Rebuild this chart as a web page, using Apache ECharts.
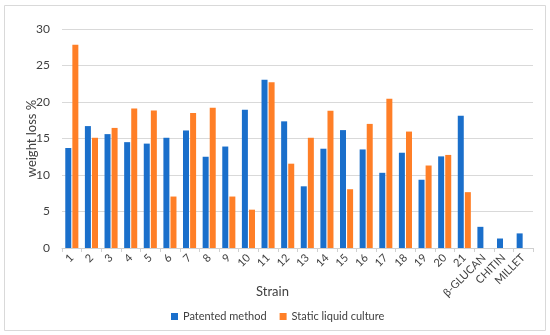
<!DOCTYPE html>
<html><head><meta charset="utf-8">
<script src="https://cdn.jsdelivr.net/npm/echarts@6/dist/echarts.min.js"></script>
<style>html,body{margin:0;padding:0;background:#fff}#c{width:550px;height:335px}</style>
</head><body><div id="c"></div>
<script>
var categories = ['1','2','3','4','5','6','7','8','9','10','11','12','13','14','15','16','17','18','19','20','21','β-GLUCAN','CHITIN','MILLET'];
var patented = [13.7,16.7,15.6,14.5,14.3,15.1,16.1,12.5,13.9,18.95,23.05,17.35,8.45,13.6,16.15,13.5,10.3,13.05,9.35,12.55,18.1,2.9,1.3,2.0];
var staticLiquid = [27.85,15.1,16.45,19.1,18.85,7.05,18.5,19.2,7.05,5.25,22.7,11.55,15.1,18.8,8.05,17.0,20.45,15.95,11.3,12.75,7.65,null,null,null];
var yTicks = [0,5,10,15,20,25,30];

var font = 'Lato, "Open Sans", sans-serif';
var chart = echarts.init(document.getElementById('c'));
chart.setOption({
  animation: false,
  textStyle: {fontFamily: font},
  grid: {left: 62, right: 17, top: 29, bottom: 87},
  graphic: [
    {type: 'rect', shape: {x: 4.5, y: 5.5, width: 541, height: 325}, style: {fill: 'none', stroke: '#d9d9d9', lineWidth: 1}, z: -1},
    {type: 'text', left: 256, top: 285, style: {text: 'Strain', fontFamily: font, fontSize: 13, fill: '#404040'}}
  ],
  legend: {
    left: 166, top: 306, itemWidth: 7, itemHeight: 7, itemGap: 13, icon: 'rect',
    textStyle: {fontFamily: font, fontSize: 11, color: '#404040'},
    data: ['Patented method', 'Static liquid culture']
  },
  xAxis: {
    type: 'category', data: categories,
    axisLine: {lineStyle: {color: '#d0d0d0'}},
    axisTick: {show: true, lineStyle: {color: '#d0d0d0'}, length: 4},
    axisLabel: {rotate: 45, color: '#404040', fontSize: 11, fontFamily: font, margin: 8, interval: 0}
  },
  yAxis: {
    type: 'value', min: yTicks[0], max: yTicks[yTicks.length-1], interval: 5,
    name: 'weight loss %', nameLocation: 'middle', nameGap: 24, nameMoveOverlap: false,
    nameTextStyle: {fontFamily: font, fontSize: 13, color: '#404040'},
    axisLabel: {color: '#404040', fontSize: 12, fontFamily: font, margin: 12},
    splitLine: {lineStyle: {color: '#d9d9d9'}},
    axisLine: {show: false}, axisTick: {show: false}
  },
  series: [
    {name: 'Patented method', type: 'bar', data: patented, barWidth: 6, barGap: '18%',
     itemStyle: {color: '#1a6fcb'}},
    {name: 'Static liquid culture', type: 'bar', data: staticLiquid, barWidth: 6,
     itemStyle: {color: '#ff7f27'}}
  ]
});
</script></body></html>
